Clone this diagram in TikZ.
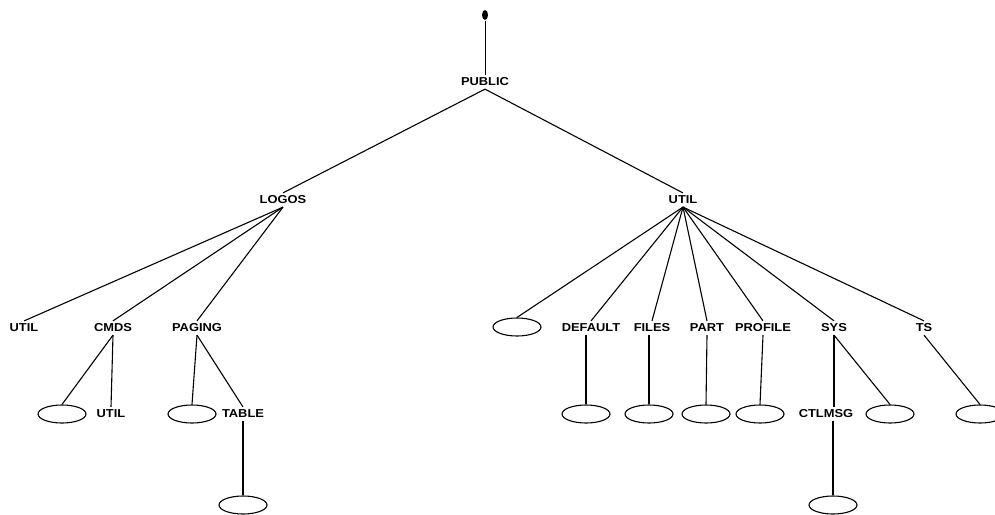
\documentclass[tikz,border=0pt]{standalone}
\usepackage{fontspec}
\setmainfont{Liberation Sans}[FakeStretch=1.12]
\usepackage{tikz}
\usetikzlibrary{shapes.geometric}

\begin{document}
\begin{tikzpicture}[x=1pt, y=-1pt, line width=1.1pt,
    dir/.style={font=\fontsize{11.5}{13}\selectfont\bfseries, inner sep=2.5pt},
    leaf/.style={ellipse, draw=black, minimum width=48pt, minimum height=18pt, inner sep=0pt}]
  \useasboundingbox (0, 0) rectangle (995, 514);

  \node[ellipse, fill=black, minimum width=6pt, minimum height=10pt, inner sep=0pt] (root) at (485, 15) {};
  \node[dir] (public) at (485, 82) {PUBLIC};

  \node[dir] (logos) at (283, 200) {LOGOS};
  \node[dir] (util) at (683, 200) {UTIL};

  \node[dir] (lutil) at (24, 328) {UTIL};
  \node[dir] (cmds) at (113, 328) {CMDS};
  \node[dir] (paging) at (197, 328) {PAGING};
  \node[leaf] (u0) at (517, 327) {};
  \node[dir] (default) at (591, 328) {DEFAULT};
  \node[dir] (files) at (652, 328) {FILES};
  \node[dir] (part) at (707, 328) {PART};
  \node[dir] (profile) at (763, 328) {PROFILE};
  \node[dir] (sys) at (834, 328) {SYS};
  \node[dir] (ts) at (924, 328) {TS};

  \node[leaf] (c0) at (62, 414) {};
  \node[dir] (cutil) at (111, 414) {UTIL};
  \node[leaf] (p0) at (192, 414) {};
  \node[dir] (table) at (243, 414) {TABLE};
  \node[leaf] (d0) at (586, 414) {};
  \node[leaf] (f0) at (649, 414) {};
  \node[leaf] (r0) at (706, 414) {};
  \node[leaf] (pr0) at (760, 414) {};
  \node[dir] (ctlmsg) at (826, 414) {CTLMSG};
  \node[leaf] (s0) at (890, 414) {};
  \node[leaf] (t0) at (980, 414) {};

  \node[leaf] (tb0) at (243, 505) {};
  \node[leaf] (m0) at (833, 505) {};

  \draw[line width=.5pt] (root) -- (public.north);
  \draw (public.south) -- (logos.north);
  \draw (public.south) -- (util.north);

  \draw (logos.south) -- (lutil.north);
  \draw (logos.south) -- (cmds.north);
  \draw (logos.south) -- (paging.north);
  \draw (cmds.south) -- (c0.north);
  \draw (cmds.south) -- (cutil.north);
  \draw (paging.south) -- (p0.north);
  \draw (paging.south) -- (table.north);
  \draw (table.south) -- (tb0.north);

  \foreach \c in {u0, default, files, part, profile, sys, ts}
    \draw (util.south) -- (\c.north);
  \draw (d0.north |- default.south) -- (d0.north);
  \draw (f0.north |- files.south) -- (f0.north);
  \draw (part.south) -- (r0.north);
  \draw (profile.south) -- (pr0.north);
  \draw (sys.south) -- (sys.south |- ctlmsg.north);
  \draw (sys.south) -- (s0.north);
  \draw (ts.south) -- (t0.north);
  \draw (m0.north |- ctlmsg.south) -- (m0.north);
\end{tikzpicture}
\end{document}
